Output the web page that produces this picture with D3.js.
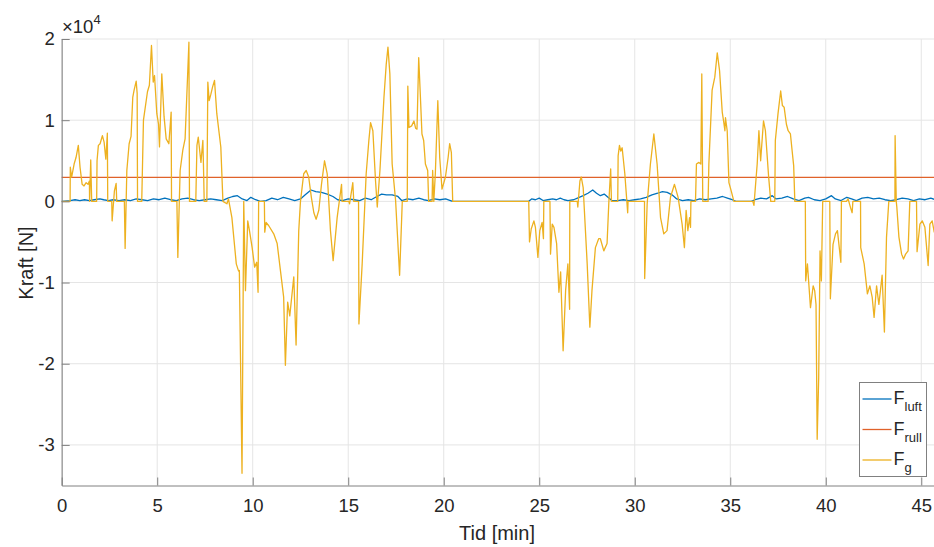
<!DOCTYPE html>
<html>
<head>
<meta charset="utf-8">
<script src="https://cdn.jsdelivr.net/npm/d3@7"></script>
<style>
  body { margin: 0; background: #fff; }
  .chart text { font-family: "Liberation Sans", Arial, Helvetica, sans-serif; fill: #262626; }
</style>
</head>
<body>
<div class="container"></div>
<script>
/********** the Data **********/
// tick labels
let xTicks = [0, 5, 10, 15, 20, 25, 30, 35, 40, 45];
let yTicks = [-30000, -20000, -10000, 0, 10000, 20000];
let seriesNames = ["luft", "rull", "g"];

// F_rull: constant rolling resistance [N]
let rullForce = 2943;
let timeSpan = [0, 45.75];

// F_luft: air resistance [min, N]
let luftPoints = [
  [0, 0], [0.44, 100], [0.7, 200], [0.95, 100], [1.2, 200], [1.45, 100], [1.7, 200], [2.0, 300],
  [2.2, 200], [2.45, 100], [2.7, 200], [3.0, 100], [3.3, 200], [3.6, 100], [3.9, 300], [4.2, 200],
  [4.5, 100], [4.8, 300], [5.1, 200], [5.4, 400], [5.7, 200], [6.0, 100], [6.3, 300], [6.6, 400],
  [6.9, 200], [7.2, 100], [7.5, 200], [7.8, 300], [8.1, 200], [8.4, 100], [8.7, 400], [8.95, 600],
  [9.2, 700], [9.45, 300], [9.7, 100], [9.9, 500], [10.15, 200], [10.4, 0], [10.7, 100], [11.0, 400],
  [11.3, 200], [11.6, 500], [11.9, 300], [12.2, 100], [12.5, 300], [12.75, 800], [13.05, 1400],
  [13.3, 1200], [13.6, 1100], [13.9, 900], [14.2, 600], [14.45, 200], [14.7, 100], [15.0, 300],
  [15.3, 200], [15.6, 100], [15.9, 400], [16.2, 200], [16.5, 600], [16.75, 900], [17.0, 800],
  [17.3, 800], [17.6, 600], [17.8, 100], [18.1, 300], [18.4, 200], [18.7, 400], [18.95, 200],
  [19.2, 100], [19.5, 300], [19.8, 200], [20.1, 300], [20.35, 100], [20.47, 0], [24.45, 0],
  [24.6, 300], [24.8, 200], [25.0, 400], [25.2, 100], [25.45, 200], [25.7, 300], [25.9, 200],
  [26.1, 400], [26.3, 200], [26.5, 100], [26.8, 200], [27.0, 400], [27.3, 700], [27.55, 1000],
  [27.8, 1400], [28.0, 1000], [28.2, 700], [28.4, 900], [28.6, 500], [28.8, 100], [29.1, 100],
  [29.4, 200], [29.7, 100], [30.0, 200], [30.3, 300], [30.6, 500], [30.9, 800], [31.2, 1000],
  [31.45, 1200], [31.7, 1100], [31.95, 800], [32.2, 300], [32.5, 100], [32.8, 200], [33.1, 100],
  [33.4, 300], [33.7, 200], [34.0, 300], [34.3, 400], [34.6, 600], [34.85, 400], [35.1, 200],
  [35.3, 0], [36.1, 0], [36.3, 200], [36.6, 400], [36.9, 300], [37.2, 700], [37.4, 300], [37.7, 400],
  [38.0, 600], [38.3, 300], [38.6, 100], [38.9, 400], [39.1, 500], [39.4, 200], [39.7, 100],
  [40.0, 300], [40.3, 700], [40.5, 300], [40.8, 100], [41.1, 500], [41.35, 300], [41.6, 100],
  [41.9, 400], [42.2, 500], [42.5, 300], [42.8, 400], [43.1, 200], [43.4, 100], [43.7, 200],
  [44.0, 400], [44.3, 300], [44.6, 100], [44.9, 300], [45.2, 200], [45.5, 400], [45.75, 200]
];

// F_g: gravity component along the road [min, N]
let gPoints = [
  [0, 0], [0.44, 0], [0.45, 4200], [0.52, 3000], [0.65, 4600], [0.75, 5400], [0.87, 6900], [0.96, 4200],
  [1.07, 2100], [1.17, 1900], [1.28, 2300], [1.38, 2100], [1.45, 2500], [1.46, 0], [1.52, 5100], [1.57, 0],
  [1.83, 0], [1.85, 5000], [1.92, 6900], [2.01, 7100], [2.13, 8100], [2.22, 7300], [2.31, 5200], [2.39, 8400],
  [2.41, 0], [2.62, 0], [2.64, -2400], [2.76, 1300], [2.85, 2200], [2.88, 0], [3.28, 0], [3.32, -5800],
  [3.41, 3800], [3.53, 7100], [3.63, 8000], [3.72, 12800], [3.79, 13700], [3.90, 14800], [3.95, 13300],
  [3.97, 0], [4.19, 0], [4.28, 10000], [4.49, 13500], [4.59, 14300], [4.70, 19200], [4.79, 14700],
  [4.86, 15500], [4.98, 10800], [5.07, 9500], [5.12, 6700], [5.24, 15700], [5.36, 10400], [5.47, 7700],
  [5.61, 7100], [5.73, 11000], [5.75, 0], [6.03, 0], [6.08, -6900], [6.20, 3800], [6.34, 6300], [6.46, 7700],
  [6.66, 19600], [6.69, 0], [7.02, 0], [7.08, 6900], [7.15, 7900], [7.29, 4800], [7.39, 7500], [7.42, 4600],
  [7.46, 0], [7.60, 0], [7.65, 14700], [7.72, 12400], [7.81, 13200], [7.90, 14100], [8.00, 14900],
  [8.12, 10800], [8.33, 6700], [8.44, 0], [8.65, -300], [8.73, 300], [8.91, -2000], [9.14, -7700],
  [9.26, -8600], [9.30, -8500], [9.44, -33500], [9.53, 0], [9.62, -11000], [9.74, -2400], [9.83, -3600],
  [9.97, -5700], [10.10, -8100], [10.21, -7500], [10.28, -11200], [10.31, 0], [10.61, 0], [10.63, -3800],
  [10.70, -2600], [10.84, -3000], [11.10, -4000], [11.28, -5200], [11.45, -8500], [11.62, -11800],
  [11.71, -20200], [11.83, -12400], [11.94, -14100], [12.15, -9300], [12.27, -17700], [12.41, -3600],
  [12.50, 0], [12.67, 3400], [12.80, 3800], [12.93, 3000], [13.07, 500], [13.20, -1400], [13.32, -2200],
  [13.46, -1100], [13.60, 2100], [13.76, 5000], [13.90, 3400], [14.07, -3600], [14.21, -7300],
  [14.42, -2000], [14.65, 2100], [14.68, 0], [15.03, 0], [15.07, -300], [15.24, 2300], [15.29, 0],
  [15.54, 0], [15.56, -15100], [15.73, -7700], [15.94, 3400], [16.08, 7500], [16.17, 9700], [16.29, 8700],
  [16.43, 2500], [16.52, -700], [16.66, 3800], [16.87, 12800], [16.99, 16900], [17.08, 19000],
  [17.18, 15700], [17.30, 4600], [17.48, 100], [17.69, -9100], [17.83, 0], [18.09, 0], [18.12, 14200],
  [18.18, 9100], [18.32, 9300], [18.44, 9900], [18.53, 9000], [18.60, 8900], [18.69, 17700],
  [18.78, 12800], [18.86, 8300], [18.95, 7500], [19.04, 4600], [19.16, 3800], [19.21, 0], [19.39, 0],
  [19.42, 3800], [19.48, 0], [19.56, 3400], [19.69, 12400], [19.79, 5400], [19.91, 1500], [20.09, 3000],
  [20.23, 5400], [20.31, 7100], [20.40, 6000], [20.47, 0], [24.45, 0], [24.49, -5000], [24.58, -3400],
  [24.72, -2400], [24.80, -3200], [24.93, -6900], [25.03, -3600], [25.15, -2600], [25.22, -4600],
  [25.24, 0], [25.56, 0], [25.59, -6500], [25.68, -2800], [25.77, -3200], [25.91, -5200], [26.03, -11200],
  [26.12, -8700], [26.25, -18400], [26.38, -11000], [26.50, -7700], [26.59, -13300], [26.60, 0],
  [26.99, 0], [27.02, -700], [27.13, 2500], [27.20, 3000], [27.30, 1700], [27.51, -7700], [27.65, -15500],
  [27.76, -11000], [27.94, -5700], [28.11, -4600], [28.20, -4600], [28.38, -6100], [28.55, -5200],
  [28.64, -300], [28.74, 4000], [28.78, 0], [29.11, 0], [29.13, 5600], [29.20, 6900], [29.27, 6200],
  [29.34, 6600], [29.48, 3400], [29.63, -1400], [29.65, 0], [30.51, 0], [30.52, -9500], [30.65, -300],
  [30.82, 4600], [31.00, 8300], [31.17, 4600], [31.35, -2000], [31.52, -4000], [31.69, -3600],
  [31.87, 500], [32.08, 2100], [32.27, 500], [32.48, -2800], [32.60, -5700], [32.69, -1100],
  [32.78, -3600], [32.87, -2000], [32.92, -3200], [32.94, 0], [33.18, 0], [33.23, 4600], [33.36, 4800],
  [33.46, 4600], [33.51, 15700], [33.56, 0], [33.84, 0], [33.88, 4600], [34.05, 13700], [34.19, 15300],
  [34.32, 18300], [34.44, 16100], [34.58, 11000], [34.65, 9900], [34.72, 8700], [34.75, 10300],
  [34.84, 8700], [34.93, 2300], [35.05, 1300], [35.19, 0], [36.18, 0], [36.24, -500], [36.41, 4600],
  [36.50, 8700], [36.59, 5000], [36.74, 9900], [36.84, 8700], [37.01, 3000], [37.12, 0], [37.33, 0],
  [37.36, 7500], [37.50, 10800], [37.64, 13600], [37.73, 11800], [37.82, 11600], [37.94, 9500],
  [38.03, 8700], [38.15, 8300], [38.24, 6200], [38.32, 4400], [38.38, 0], [38.93, 0], [38.95, -9800],
  [39.04, -7700], [39.20, -13100], [39.34, -10400], [39.42, -11000], [39.49, -12700], [39.55, -29300],
  [39.63, -21700], [39.70, -6100], [39.77, -9800], [39.84, 0], [40.21, 0], [40.24, -12000],
  [40.38, -5300], [40.51, -4000], [40.61, -3600], [40.79, -7500], [40.82, 0], [41.08, 0], [41.17, 300],
  [41.30, -800], [41.38, -1400], [41.42, 0], [41.82, 0], [41.83, -5700], [42.01, -7700], [42.18, -11400],
  [42.31, -10400], [42.43, -11800], [42.53, -14300], [42.66, -10400], [42.78, -12700], [42.88, -10600],
  [42.95, -9100], [43.07, -16100], [43.18, -4400], [43.30, 0], [43.62, 0], [43.63, 8100], [43.69, 0],
  [43.72, -700], [43.83, -4400], [43.97, -6500], [44.07, -7100], [44.18, -6500], [44.31, -6100],
  [44.40, 0], [44.75, 0], [44.78, -6200], [44.93, -2800], [45.05, -2400], [45.19, -3200], [45.36, -7900],
  [45.45, -2800], [45.57, -2400], [45.68, -3800], [45.75, -3600]
];

let colors = ["#0072BD", "#E0622A", "#EDB120"];


/********** drawChart function **********/
function drawChart() {
  let width = 934;
  let height = 547;
  let margin = {top: 39, right: -1.6, bottom: 61.5, left: 61.7};

  let chart = d3.select(".container")
    .append("svg")
      .attr("class", "chart")
      .attr("width", width)
      .attr("height", height);

  chart.append("rect").attr("width", width).attr("height", height).attr("fill", "#fff");

  /***** scales *****/
  let xScale = d3.scaleLinear()
    .domain(timeSpan)
    .range([margin.left, width - margin.right]);

  let yScale = d3.scaleLinear()
    .domain([-35000, 20000])
    .range([height - margin.bottom, margin.top]);

  /***** grid *****/
  let grid = chart.append("g").attr("class", "grid");
  grid.selectAll(".gx").data(xTicks).join("line")
    .attr("x1", d => xScale(d)).attr("x2", d => xScale(d))
    .attr("y1", yScale.range()[0]).attr("y2", yScale.range()[1])
    .attr("stroke", "#e5e5e5");
  grid.selectAll(".gy").data(yTicks).join("line")
    .attr("x1", xScale.range()[0]).attr("x2", xScale.range()[1])
    .attr("y1", d => yScale(d)).attr("y2", d => yScale(d))
    .attr("stroke", "#e5e5e5");

  /***** lines *****/
  let line = d3.line().x(d => xScale(d[0])).y(d => yScale(d[1]));
  let rullPoints = timeSpan.map(t => [t, rullForce]);
  let allSeries = [luftPoints, rullPoints, gPoints];

  chart.append("g").attr("class", "series")
    .selectAll("path").data(allSeries).join("path")
      .attr("d", line)
      .attr("fill", "none")
      .attr("stroke", (d, i) => colors[i])
      .attr("stroke-width", 1.3)
      .attr("stroke-linejoin", "round");

  /***** axes *****/
  let xAxis = chart.append("g")
    .attr("class", "x-axis")
    .attr("transform", `translate(0, ${yScale.range()[0]})`)
    .call(d3.axisBottom(xScale).tickValues(xTicks).tickSizeInner(-8).tickSizeOuter(0).tickPadding(13));

  let yAxis = chart.append("g")
    .attr("class", "y-axis")
    .attr("transform", `translate(${xScale.range()[0]}, 0)`)
    .call(d3.axisLeft(yScale).tickValues(yTicks).tickSizeInner(-8).tickSizeOuter(0).tickPadding(7)
      .tickFormat(d => String(d / 10000)));

  [xAxis, yAxis].forEach(ax => {
    ax.select(".domain").attr("stroke", "#808080");
    ax.selectAll(".tick line").attr("stroke", "#808080");
    ax.selectAll(".tick text").attr("font-size", "18.5px").attr("fill", "#262626");
  });

  // exponent label
  let expo = chart.append("text").attr("x", 62).attr("y", 33).attr("font-size", "18.5px");
  expo.append("tspan").text("\u00d710");
  expo.append("tspan").attr("dy", -9).attr("font-size", "13px").text("4");

  // axis labels
  chart.append("text")
    .attr("x", 497).attr("y", 540)
    .attr("text-anchor", "middle")
    .attr("font-size", "20px")
    .text("Tid [min]");

  chart.append("text")
    .attr("transform", `translate(33, 263) rotate(-90)`)
    .attr("text-anchor", "middle")
    .attr("font-size", "20px")
    .text("Kraft [N]");

  /***** legend *****/
  let legend = chart.append("g").attr("class", "legend").attr("transform", "translate(859.5, 382.5)");
  legend.append("rect")
    .attr("width", 67).attr("height", 94)
    .attr("fill", "#fff").attr("stroke", "#808080");

  let rows = legend.selectAll(".row").data(seriesNames).join("g")
    .attr("transform", (d, i) => `translate(0, ${16.5 + i * 30.5})`);
  rows.append("line")
    .attr("x1", 3).attr("x2", 32)
    .attr("stroke", (d, i) => colors[i]).attr("stroke-width", 1.3);
  let lbl = rows.append("text").attr("x", 34).attr("y", 5).attr("font-size", "18px");
  lbl.append("tspan").text("F");
  lbl.append("tspan").attr("dy", 7).attr("font-size", "13px").text(d => d);
}

drawChart();
</script>
</body>
</html>
